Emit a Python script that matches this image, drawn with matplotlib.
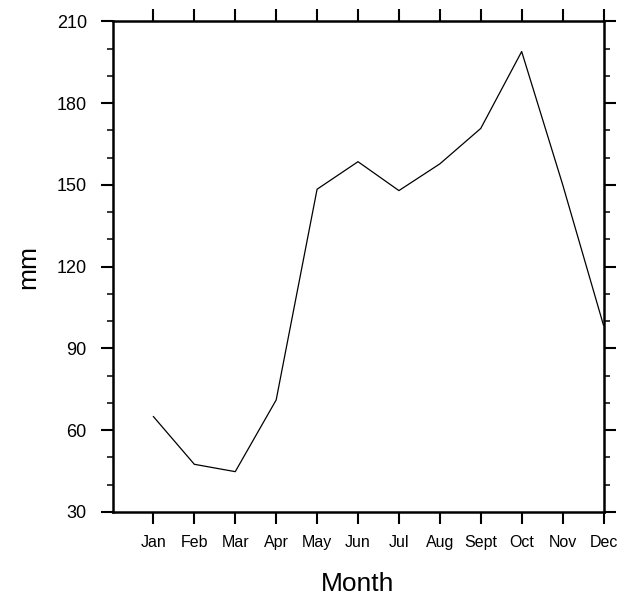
import matplotlib
matplotlib.use("Agg")
import matplotlib.pyplot as plt
from matplotlib.ticker import MultipleLocator

months = ["Jan", "Feb", "Mar", "Apr", "May", "Jun", "Jul", "Aug", "Sept", "Oct", "Nov", "Dec"]
month_index = list(range(1, 13))
rain_mm = [65.0, 47.5, 44.8, 71.1, 148.4, 158.5, 147.9, 157.7, 170.7, 198.9, 150.2, 98.5]
y_ticks = [30, 60, 90, 120, 150, 180, 210]

plt.rcParams['font.family'] = ['Liberation Sans', 'DejaVu Sans']

fig = plt.figure(figsize=(6.17, 5.96), dpi=100)
ax = fig.add_axes([112.5/617, 1-512/596, 491/617, 490.7/596])

ax.plot(month_index, rain_mm, color='black', lw=0.9)

ax.set_xlim(0, 12)
ax.set_ylim(30, 210)
ax.set_xticks(month_index)
ax.set_xticklabels(months, fontsize=11.5)
ax.set_yticks(y_ticks)
ax.set_yticklabels([str(v) for v in y_ticks], fontsize=13)
ax.yaxis.set_minor_locator(MultipleLocator(10))

for s in ax.spines.values():
    s.set_linewidth(1.8)

ax.tick_params(axis='both', which='major', direction='out', length=8.5, width=1.5,
               top=True, right=True, labeltop=False, labelright=False)
ax.tick_params(axis='y', which='minor', direction='out', length=4.3, width=1.1,
               left=True, right=True)
ax.tick_params(axis='x', which='minor', bottom=False, top=False)
ax.tick_params(axis='y', which='major', pad=10)
ax.tick_params(axis='x', which='major', pad=8)

ax.set_xlabel("Month", fontsize=19, labelpad=16)
ax.set_ylabel("mm", fontsize=19, labelpad=12)

fig.savefig("out.png", dpi=100)
